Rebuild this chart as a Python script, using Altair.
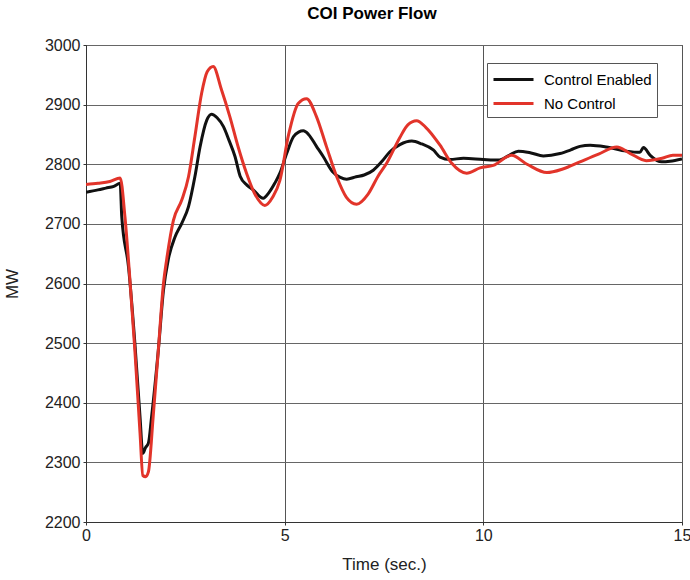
import altair as alt
import pandas as pd

FONT = "Liberation Sans, Arial, Helvetica, sans-serif"

t_ctrl = [0, 0.3, 0.5, 0.7, 0.86, 0.9, 1.07, 1.23, 1.36, 1.43, 1.5, 1.57, 1.65, 1.82, 1.95,
          2.07, 2.24, 2.41, 2.58, 2.74, 2.87, 3.04, 3.16, 3.3, 3.46, 3.6, 3.75, 3.88, 4.05, 4.21,
          4.46, 4.6, 4.75, 4.88, 5.05, 5.22, 5.35, 5.47, 5.6, 5.8, 5.97, 6.2, 6.4, 6.56, 6.8,
          7.0, 7.23, 7.45, 7.65, 7.9, 8.2, 8.45, 8.74, 8.91, 9.16, 9.5, 10.0, 10.38,
          10.65, 10.88, 11.2, 11.51, 11.93, 12.2, 12.43, 12.69, 13.1, 13.6, 13.94,
          14.03, 14.2, 14.49, 14.7, 15.0]
v_ctrl = [2753, 2757, 2760, 2763, 2768, 2712, 2628, 2500, 2376, 2315, 2325, 2332, 2376, 2488, 2589,
          2640, 2678, 2701, 2729, 2779, 2829, 2874, 2884, 2878, 2863, 2840, 2813, 2780, 2765, 2757,
          2743, 2752, 2768, 2785, 2818, 2846, 2854, 2856, 2850, 2830, 2813, 2788, 2778, 2775, 2779,
          2782, 2790, 2805, 2821, 2833, 2839, 2834, 2824, 2812, 2808, 2810, 2808, 2807,
          2815, 2822, 2819, 2814, 2818, 2824, 2830, 2832, 2829, 2822, 2820,
          2828, 2815, 2804, 2805, 2809]

t_none = [0, 0.3, 0.6, 0.86, 0.98, 1.1, 1.23, 1.36, 1.43, 1.5, 1.57, 1.69, 1.82, 1.95, 2.03,
          2.2, 2.41, 2.58, 2.74, 2.91, 3.05, 3.2, 3.41, 3.62, 3.83, 4.04, 4.25, 4.5, 4.7, 4.88,
          5.1, 5.34, 5.55, 5.8, 6.05, 6.31, 6.55, 6.81, 7.1, 7.35, 7.57, 7.9, 8.1, 8.32, 8.55,
          8.91, 9.2, 9.58, 9.92, 10.25, 10.71, 11.1, 11.6, 12.0, 12.43, 12.9, 13.36,
          13.7, 14.1, 14.5, 14.77, 15.0]
v_none = [2766, 2768, 2771, 2777, 2712, 2611, 2488, 2349, 2278, 2276, 2284, 2376, 2488, 2600, 2640,
          2706, 2740, 2779, 2846, 2919, 2955, 2964, 2925, 2880, 2829, 2785, 2750, 2731, 2745, 2773,
          2850, 2902, 2910, 2880, 2830, 2779, 2745, 2733, 2750, 2780, 2802, 2845, 2866, 2873, 2862,
          2832, 2802, 2785, 2794, 2798, 2815, 2800, 2786, 2792, 2804, 2817, 2829,
          2818, 2806, 2810, 2815, 2815]

series_names = ["Control Enabled", "No Control"]
series_colors = ["#111111", "#e2342a"]

df = pd.concat([
    pd.DataFrame({"t": t_ctrl, "mw": v_ctrl, "series": series_names[0]}),
    pd.DataFrame({"t": t_none, "mw": v_none, "series": series_names[1]}),
])

chart = alt.Chart(df).mark_line(strokeWidth=3, interpolate="monotone", clip=True).encode(
    x=alt.X("t:Q", title="Time (sec.)",
            scale=alt.Scale(domain=[0, 15], nice=False),
            axis=alt.Axis(values=[0, 5, 10, 15], gridColor="#555", labelFontSize=16,
                          titleFontSize=17, labelPadding=2, titlePadding=13,
                          labelFlush=False)),
    y=alt.Y("mw:Q", title="MW",
            scale=alt.Scale(domain=[2200, 3000], nice=False),
            axis=alt.Axis(values=list(range(2200, 3001, 100)), format="d", gridColor="#666",
                          labelFontSize=16, titleFontSize=17, labelPadding=3, titlePadding=23)),
    color=alt.Color("series:N", sort=series_names,
                    scale=alt.Scale(domain=series_names, range=series_colors),
                    legend=alt.Legend(title=None, orient="none", legendX=401, legendY=18,
                                      symbolType="M-2,0L2,0", symbolSize=400,
                                      symbolStrokeWidth=3, symbolOffset=10,
                                      labelFontSize=15, fillColor="white", strokeColor="#555",
                                      padding=5, rowPadding=4, labelOffset=19)),
    detail="series:N",
).properties(
    width=596, height=477,
    title=alt.TitleParams("COI Power Flow", fontSize=17, fontWeight="bold", offset=14, dx=-12),
    autosize=alt.AutoSizeParams(type="none"),
    padding={"left": 86, "top": 45, "right": 8, "bottom": 58},
).configure(font=FONT).configure_view(
    stroke="#333", strokeWidth=1
).configure_axis(
    domainColor="#333", tickColor="#333", tickSize=3, labelColor="#222", titleColor="#222",
    titleFontWeight="normal", gridOpacity=1, gridWidth=1, labelFont=FONT, titleFont=FONT
)

chart.save("out.html", embed_options={"renderer": "svg", "actions": False})
